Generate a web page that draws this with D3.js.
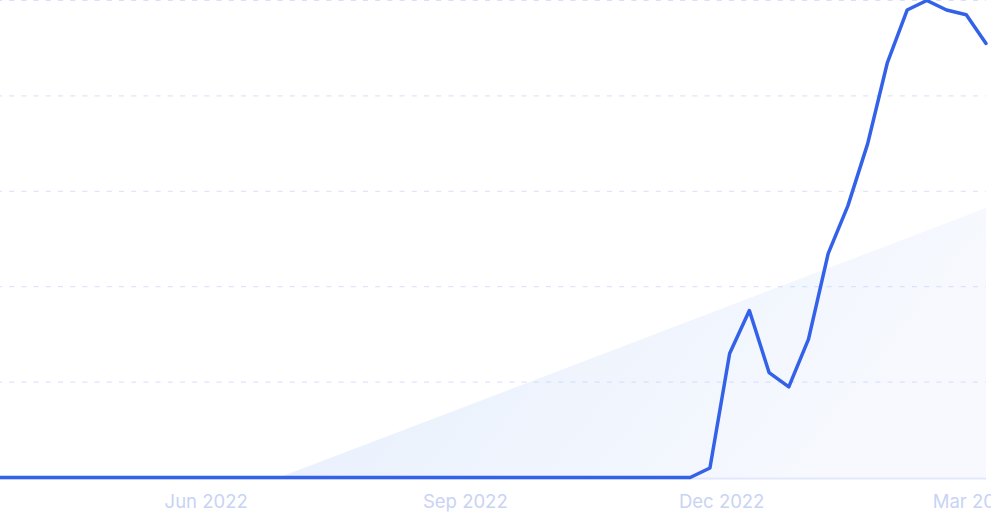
<!DOCTYPE html>
<html>
<head>
<meta charset="utf-8">
<script src="https://cdn.jsdelivr.net/npm/d3@7"></script>
<style>
  html, body { margin: 0; padding: 0; background: #ffffff; overflow: hidden; }
  svg { display: block; }
</style>
</head>
<body>
<svg id="chart" width="991" height="524"></svg>
<script>
// ---- data ----
const startDate = "2022-03-20";           // first weekly point
const values = [
  0,0,0,0,0,0,0,0,0,0,
  0,0,0,0,0,0,0,0,0,0,
  0,0,0,0,0,0,0,0,0,0,
  0,0,0,0,0,0,
  2,26,35,22,19,29,47,57,70,87,98,100,98,97,91
];
const tickLabels = ["Jun 2022", "Sep 2022", "Dec 2022", "Mar 2023"];
const tickDates = ["2022-06-01", "2022-09-01", "2022-12-01", "2023-03-01"];
const gridValues = [0, 20, 40, 60, 80, 100];
const trendStart = 0;     // trend triangle value at its start
const trendEnd = 56.5;    // trend triangle value at chart end
const trendStartDate = "2022-06-27";

// ---- build ----
const parse = d3.utcParse("%Y-%m-%d");
const t0 = parse(startDate);
const data = values.map((v, i) => ({ date: d3.utcDay.offset(t0, i * 7), value: v }));

const svg = d3.select("#chart");
const W = 991, H = 524;
const margin = { left: 0, right: 5, top: 0, bottom: 46.5 };

const x = d3.scaleUtc()
  .domain(d3.extent(data, d => d.date))
  .range([margin.left, W - margin.right]);
const y = d3.scaleLinear()
  .domain([0, 100])
  .range([H - margin.bottom, margin.top + 0.5]);

const defs = svg.append("defs");
const grad = defs.append("linearGradient")
  .attr("id", "trendGrad")
  .attr("x1", "0%").attr("y1", "0%").attr("x2", "100%").attr("y2", "30%");
grad.append("stop").attr("offset", "0%").attr("stop-color", "#e5eefc");
grad.append("stop").attr("offset", "100%").attr("stop-color", "#f7f9fe");

// trend triangle
const trend = [
  { date: parse(trendStartDate), value: trendStart },
  { date: data[data.length - 1].date, value: trendEnd }
];
const area = d3.area()
  .x(d => x(d.date))
  .y0(y(0))
  .y1(d => y(d.value));
svg.append("path")
  .datum(trend)
  .attr("d", area)
  .attr("fill", "url(#trendGrad)");

// gridlines
svg.append("g")
  .selectAll("line")
  .data(gridValues.filter(v => v > 0))
  .join("line")
  .attr("x1", 0)
  .attr("x2", W - margin.right)
  .attr("y1", d => y(d))
  .attr("y2", d => y(d))
  .attr("stroke", "#c9d4fa")
  .attr("stroke-opacity", 0.75)
  .attr("stroke-width", 1)
  .attr("stroke-dasharray", "5 7.2")
  .attr("stroke-dashoffset", 3);

// baseline
svg.append("line")
  .attr("x1", 0).attr("x2", W - margin.right)
  .attr("y1", y(0) + 1).attr("y2", y(0) + 1)
  .attr("stroke", "#e1e8fb")
  .attr("stroke-width", 2);

// x axis labels
const xAxis = d3.axisBottom(x)
  .tickValues(tickDates.map(parse))
  .tickFormat((d, i) => tickLabels[i])
  .tickSize(0)
  .tickPadding(0);
const gx = svg.append("g")
  .attr("transform", `translate(0, ${H - margin.bottom})`)
  .call(xAxis);
gx.select(".domain").remove();
gx.selectAll("text")
  .attr("y", 30.5)
  .attr("dy", 0)
  .attr("fill", "#c8d3f5")
  .attr("font-family", "Inter, 'Noto Sans', sans-serif")
  .attr("font-size", 18.5);

// line
const line = d3.line()
  .x(d => x(d.date))
  .y(d => y(d.value));
svg.append("path")
  .datum(data)
  .attr("d", line)
  .attr("fill", "none")
  .attr("stroke", "#3362e8")
  .attr("stroke-width", 3.5)
  .attr("stroke-linejoin", "round")
  .attr("stroke-linecap", "round");
</script>
</body>
</html>
